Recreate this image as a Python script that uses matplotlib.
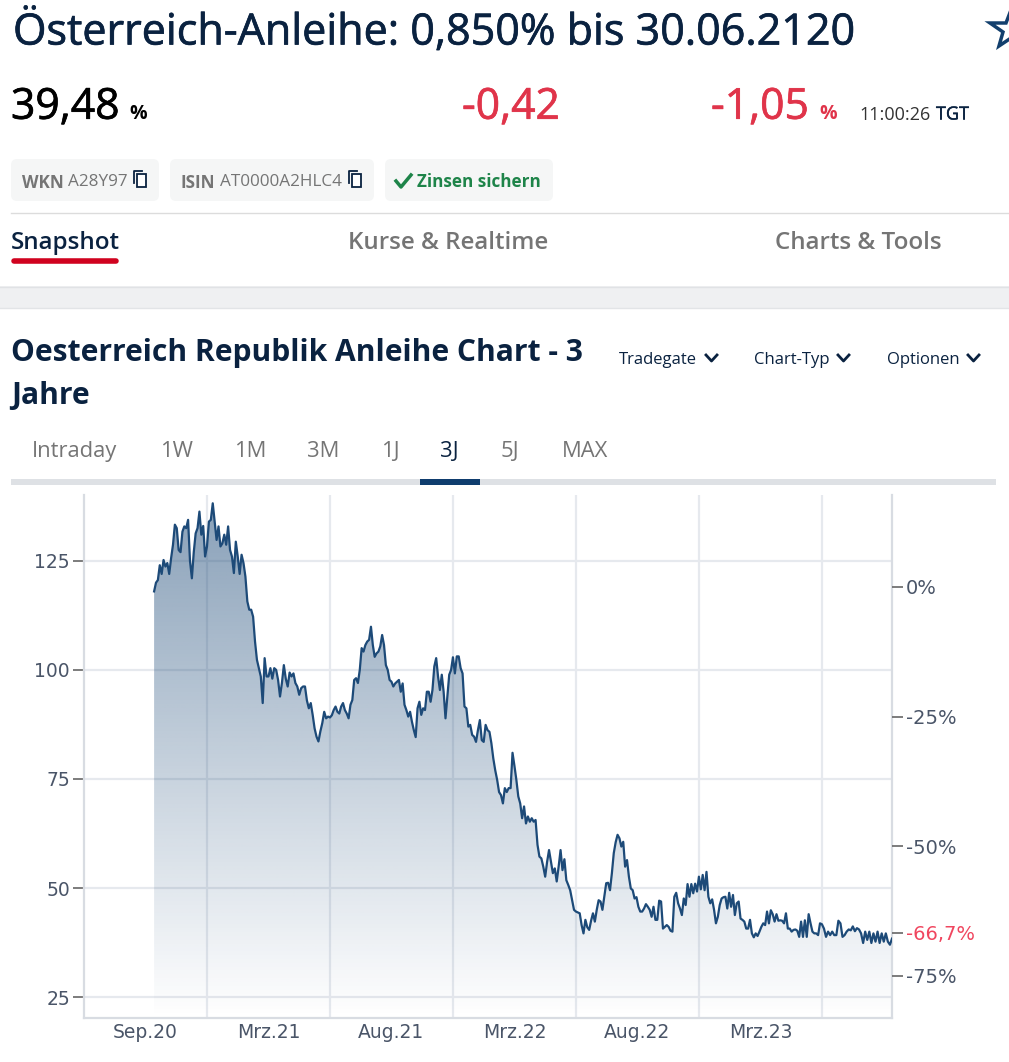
import numpy as np
import matplotlib
matplotlib.use('Agg')
import matplotlib.pyplot as plt
import matplotlib.patheffects as pe
from matplotlib.patches import FancyBboxPatch, Rectangle, Polygon

plt.rcParams['font.family'] = ['Open Sans', 'DejaVu Sans']

# price readings between the vertical grid lines of the chart
prices_sep20 = [118, 120, 120.6, 124, 122, 125.2, 123.7, 124.5, 122, 125.6, 128.7, 133.3, 132.5,
                127.5, 127, 131.7, 132.9, 132.5, 134.4, 125, 121, 127, 131.3, 132.5, 136.3, 131,
                133, 126]
prices_mrz21 = [128.3, 134, 134.4, 138.2, 134, 129.8, 132.9, 128.3, 129, 131, 128.7, 132.9, 127.5,
                126, 122.2, 129.4, 126, 122, 126.4, 124.5, 121.4, 115.7, 113.8, 113.8, 112.2, 106.5,
                102.3, 100.4, 98.5, 92.4, 102.7, 98.5, 98.5, 100.4, 98, 100.4, 100, 97.7, 93.9,
                97, 101.1, 98, 96.2, 99.4, 98.5, 99.2, 97, 96.2, 94.3, 95.8, 96.2, 96.2, 93, 91.2,
                92.4, 89.7, 86.6, 84.7, 83.6, 85.9, 87.8, 90.4, 88.9, 89.3]
prices_aug21 = [89.1, 89.6, 90.8, 91.6, 90.4, 90, 91.6, 92.4, 90.8, 90, 88.9, 92, 93.1, 97.7, 98.1, 97, 100,
                105, 104.2, 105.7, 106.5, 106.9, 109.9, 105.7, 103, 103.8, 104.2, 105.4, 108, 105.7,
                101.1, 100, 97.7, 97.3, 96.2, 96.9, 97.3, 97.7, 95, 96.9, 92, 90.8, 89.3, 90.4,
                88.1, 86.2, 84.6, 91.2, 92.7, 89.7, 91.2, 90.8, 95, 95, 92.7, 95.4, 100.8, 102.7,
                98.5, 95.4, 98.9, 95, 88.9, 93.9, 98.9, 100]
prices_mrz22 = [102.9, 99.2, 103.1, 103.1, 100.4, 99.2, 91.6, 91.2, 87, 87.4, 85.1, 84.7, 83.5, 86.2,
                88.5, 83.9, 83.5, 87.4, 86.2, 85.8, 83.2, 79.7, 77, 74.8, 72, 71.3, 69.4, 72.9, 72,
                72.9, 72.9, 81, 78, 74.8, 71, 69.4, 66, 68.7, 64.8, 66.4, 65.2, 66, 65.2, 65.6,
                59.9, 57.2, 56.8, 54.9, 52.6, 56, 58.7, 56, 53.4, 54.5, 51.5, 54.9, 58.7, 54.1,
                56.6, 51.8, 50.7, 49.5, 47.2, 45]
prices_aug22 = [44.6, 44.4, 44.2, 41.5, 39.6, 42.7, 41, 40.4, 42.5, 44.2, 42.3, 45, 47.2, 46.9, 45, 48,
                51.1, 51.2, 49.5, 53.4, 58, 60.5, 62.2, 61.4, 59.5, 60.6, 54.9, 56.4, 52.6, 49.9,
                49.5, 47.6, 47.9, 45.7, 44.6, 44.6, 45.3, 46.3, 45.7, 45, 43.4, 45.7, 42.7, 42.7,
                47.1, 46.9, 40.7, 41.1, 41.5, 41.1, 40.2, 40, 48, 48.9, 46.5, 45.3, 43.8, 47.6,
                46.1, 50.9, 48, 50.9, 48.8, 51, 49.2]
prices_mrz23 = [52.6, 49.7, 53, 49.5, 53.7, 48, 46.5, 47.4, 45, 41.9, 43.4, 46.1, 47.6, 47.9, 48, 45.3,
                48.9, 45.7, 48.4, 43.8, 46.5, 46.9, 43, 42.7, 42.3, 40.7, 40.7, 42.7, 39.6, 38.7,
                39.6, 39, 40, 41.1, 41.9, 41.5, 44.6, 41.9, 44.9, 44, 42.3, 44, 42.5, 42.6, 42.5,
                41.9, 44.2, 40.7, 40.7, 40, 40.4, 40.5, 40.2, 38.8, 42.3, 38.8, 42.6, 38.8, 44,
                41.9, 40, 39.6, 39.6, 39.2, 41.9]
prices_aug23 = [41.7, 40.7, 38.8, 40, 39.2, 40, 39.2, 39.2, 42.5, 41.9, 38.8, 39.2, 40, 40.5, 40.3,
                41.2, 40.1, 40.8, 40.5, 39.6, 37.4, 40, 38.1, 40, 37.4, 39.6, 37.7, 40, 37.4, 39.6,
                37.7, 39.6, 37.7, 37, 38.4]
price_segments = [prices_sep20, prices_mrz21, prices_aug21, prices_mrz22, prices_aug22, prices_mrz23, prices_aug23]

# x is counted in grid intervals, the first grid line is 0
segment_edges = [-0.43, 0, 1, 2, 3, 4, 5, 5.57]
grid_ticks = [0, 1, 2, 3, 4, 5]
month_ticks = [-0.5, 0.5, 1.5, 2.5, 3.5, 4.5]
month_labels = ['Sep.20', 'Mrz.21', 'Aug.21', 'Mrz.22', 'Aug.22', 'Mrz.23']
price_ticks = [25, 50, 75, 100, 125]
pct_ticks = [0, -25, -50, -66.7, -75]
pct_labels = ['0%', '-25%', '-50%', '-66,7%', '-75%']
range_tabs = ['Intraday', '1W', '1M', '3M', '1J', '3J', '5J', 'MAX']
range_tab_x = [32, 160, 234, 307, 381, 440, 501, 562]

NAVY = '#0a2240'
RED = '#e0344a'
GREY = '#757575'
LINE = '#1d4a78'

x = np.concatenate([np.linspace(segment_edges[i], segment_edges[i + 1], len(seg), endpoint=(i == 6))
                    for i, seg in enumerate(price_segments)])
y = np.concatenate(price_segments)

fig = plt.figure(figsize=(10.09, 10.62), dpi=100, facecolor='white')

# page around the chart, in pixel coordinates
ui = fig.add_axes([0, 0, 1, 1])
ui.set_xlim(0, 1009)
ui.set_ylim(1062, 0)
ui.axis('off')


def label(px, py, s, size, color=NAVY, weight='normal', ha='left', thick=0):
    t = ui.text(px, py, s, fontsize=size, color=color, fontweight=weight, ha=ha, va='center')
    if thick:
        t.set_path_effects([pe.withStroke(linewidth=thick, foreground=color)])


def chip(x0, x1):
    ui.add_patch(FancyBboxPatch((x0, 159), x1 - x0, 42, boxstyle='round,pad=0,rounding_size=6',
                                fc='#f5f6f6', ec='none'))


def copy_icon(px):
    ui.add_patch(Rectangle((px + 3, 174), 9, 13, fc='white', ec=NAVY, lw=1.3))
    ui.plot([px, px, px + 8], [183, 171, 171], color=NAVY, lw=1.3)


def chevron(px):
    ui.plot([px, px + 5.5, px + 11], [355, 361, 355], color=NAVY, lw=2)


label(13, 32.5, 'Österreich-Anleihe: 0,850% bis 30.06.2120', 31, thick=0.5)
ui.add_patch(Polygon([[1011, 10], [1016, 23], [1030, 23], [1019, 32], [1023, 46], [1011, 38], [999, 46], [1003, 32], [990, 23], [1006, 23]],
                     closed=True, fc='white', ec='#123f6d', lw=2.5, clip_on=True))

label(11, 107.5, '39,48', 30.7, color='black', thick=0.5)
label(129, 114, '%', 14, color='black', weight='bold')
label(462, 107.5, '-0,42', 30.7, color=RED, thick=0.5)
label(711, 107.5, '-1,05', 30.7, color=RED, thick=0.5)
label(819, 114, '%', 14, color=RED, weight='bold')
label(859, 114.5, '11:00:26', 13, color='#333333')
label(936, 114.5, 'TGT', 13, weight='medium', thick=0.3)

chip(11, 159)
chip(170, 374)
chip(385, 553)
label(22, 182.5, 'WKN', 12.3, color=GREY, weight='bold')
label(68, 181.5, 'A28Y97', 12.3, color=GREY)
copy_icon(134)
label(181, 182.5, 'ISIN', 12.3, color=GREY, weight='bold')
label(220, 181.5, 'AT0000A2HLC4', 12.3, color=GREY)
copy_icon(349)
ui.plot([396, 401, 411], [181, 187, 175], color='#1e8449', lw=2.5)
label(417, 182, 'Zinsen sichern', 12.3, color='#1e8449', weight='bold')

ui.plot([11, 1009], [212.5, 212.5], color='#dcdcdc', lw=1)
label(11, 243, 'Snapshot', 17.4, weight='semibold')
label(348, 243, 'Kurse & Realtime', 17.4, color=GREY, weight='semibold')
label(775, 243, 'Charts & Tools', 17.4, color=GREY, weight='semibold')
ui.plot([14, 116], [261, 261], color='#d0021f', lw=4, solid_capstyle='round')

ui.add_patch(Rectangle((0, 286), 1009, 22, fc='#eff0f2', ec='none'))
ui.plot([0, 1009], [286.5, 286.5], color='#e0e2e5', lw=1)
ui.plot([0, 1009], [308, 308], color='#e2e4e7', lw=1)

label(11, 353.5, 'Oesterreich Republik Anleihe Chart - 3', 21.65, weight='bold')
label(11, 395.5, 'Jahre', 21.65, weight='bold')
label(619, 360.5, 'Tradegate', 12)
chevron(706)
label(754, 360.5, 'Chart-Typ', 12)
chevron(838)
label(887, 360.5, 'Optionen', 12)
chevron(968)

for tab, tab_x in zip(range_tabs, range_tab_x):
    label(tab_x, 451.5, tab, 15.8, color=NAVY if tab == '3J' else GREY)
ui.add_patch(Rectangle((11, 479), 985, 6, fc='#dee1e5', ec='none'))
ui.add_patch(Rectangle((420, 479), 60, 6, fc='#0f3d6e', ec='none'))

# chart
ax = fig.add_axes([84 / 1009, 1 - 1018 / 1062, (892 - 84) / 1009, (1018 - 495) / 1062])
ax.patch.set_alpha(0)
ax.set_xlim(-1, 5.57)
ax.set_ylim(20.2, 140.1)
ax.set_yticks(price_ticks)
ax.set_xticks(grid_ticks)
ax.set_xticklabels([])
ax.set_xticks(month_ticks, minor=True)
ax.set_xticklabels(month_labels, minor=True, fontsize=13.5, color='#4a5568', family='DejaVu Sans')
ax.tick_params(axis='x', which='both', length=0, pad=3.5)
ax.tick_params(axis='y', length=8, width=1.2, color='#666666', labelsize=13.5, labelcolor='#4a5568', pad=2)
for t in ax.get_yticklabels():
    t.set_family('DejaVu Sans')
ax.grid(True, color='#e6e9ee', lw=1.6, zorder=0)
ax.set_axisbelow(True)
ax.spines['top'].set_visible(False)
for side in ['left', 'right', 'bottom']:
    ax.spines[side].set_color('#d8dce2')
    ax.spines[side].set_linewidth(1.6)

gradient = np.zeros((256, 2, 4))
gradient[..., :3] = matplotlib.colors.to_rgb('#1d4a78')
gradient[..., 3] = np.linspace(0.52, 0.0, 256)[:, None]
img = ax.imshow(gradient, extent=[-1, 5.57, 20.2, 138.2], origin='upper', aspect='auto', zorder=2)
img.set_clip_path(Polygon(np.vstack([[x[0], 20.2], np.column_stack([x, y]), [x[-1], 20.2]]), transform=ax.transData))
ax.set_xlim(-1, 5.57)
ax.set_ylim(20.2, 140.1)
ax.plot(x, y, color=LINE, lw=1.6, zorder=3, solid_joinstyle='round')

pct = ax.twinx()
pct.set_ylim(-83.1, 17.7)
pct.set_yticks(pct_ticks)
pct.set_yticklabels(pct_labels, fontsize=14, color='#4a5568', family='DejaVu Sans')
pct.get_yticklabels()[3].set_color('#f0465f')
pct.tick_params(axis='y', length=8, width=1.2, color='#666666', pad=2)
pct.spines['top'].set_visible(False)
for side in ['left', 'right', 'bottom']:
    pct.spines[side].set_visible(False)

fig.savefig('out.png', dpi=100)
